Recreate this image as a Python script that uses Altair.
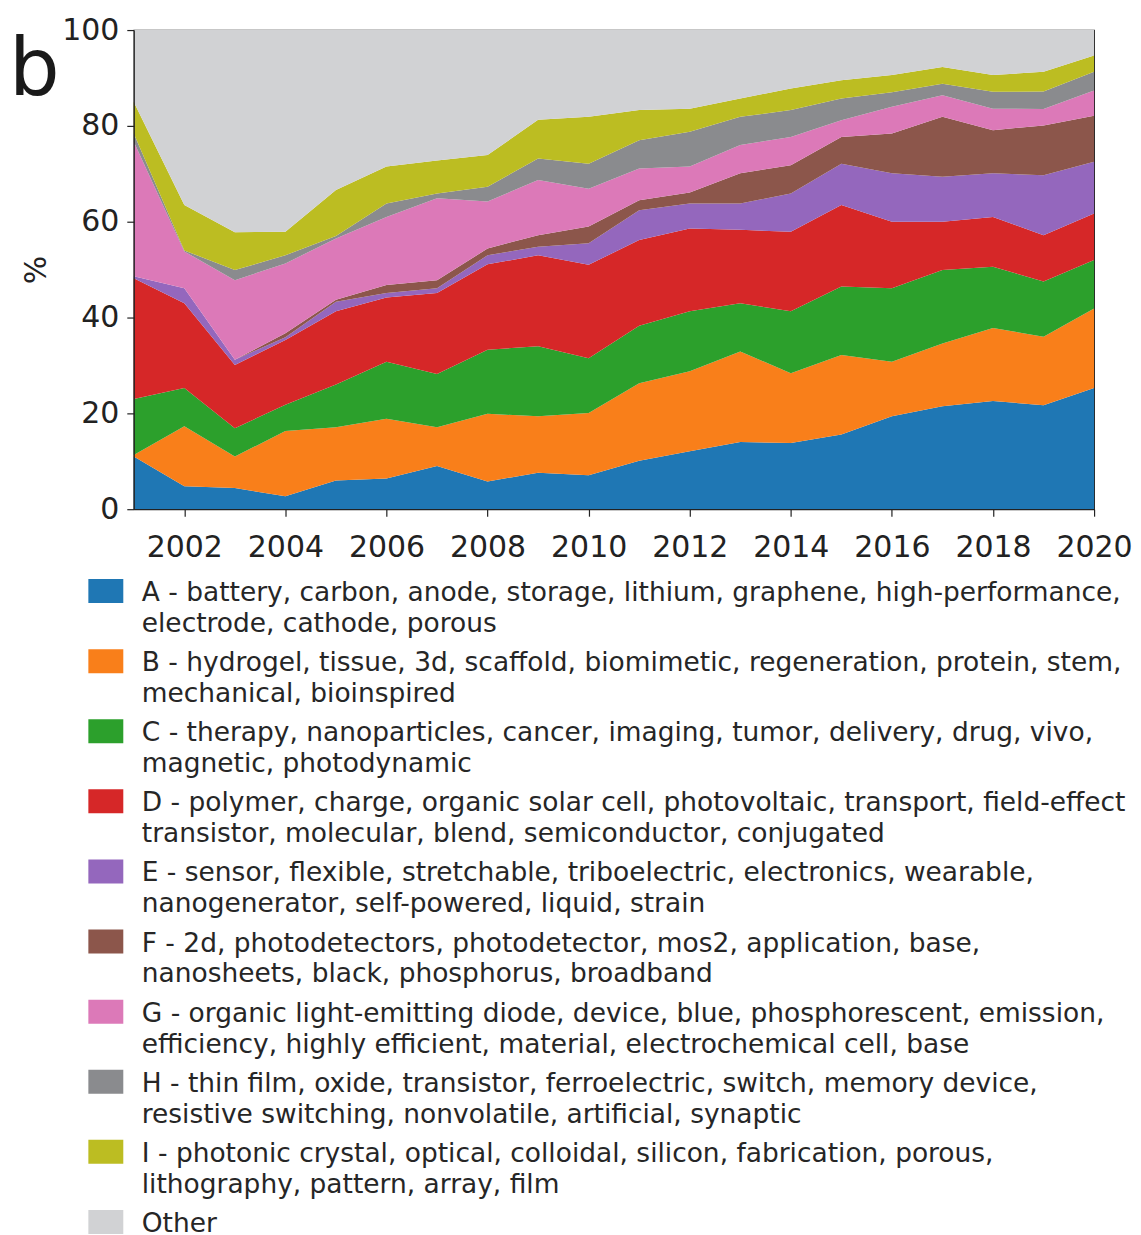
import altair as alt
import pandas as pd

FONT = "DejaVu Sans"
INK = "#222222"

PANEL_LABEL = "b"
Y_TITLE = "%"

YEARS = list(range(2001, 2021))
X_TICKS = [2002, 2004, 2006, 2008, 2010, 2012, 2014, 2016, 2018, 2020]
Y_TICKS = [0, 20, 40, 60, 80, 100]

CATEGORIES = ["A", "B", "C", "D", "E", "F", "G", "H", "I", "Other"]
COLORS = ["#1f77b4", "#f97f1a", "#2ca02c", "#d62728", "#9467bd",
          "#8c564b", "#dc79b8", "#8a8b8e", "#bcbd22", "#d1d2d4"]

SERIES_A = [11.0, 4.8, 4.4, 2.7, 6.0, 6.4, 9.0, 5.8, 7.6, 7.1, 10.1, 12.1, 14.0, 13.8, 15.6, 19.4, 21.5, 22.6, 21.7, 25.3]
SERIES_B = [0.3, 12.5, 6.6, 13.6, 11.1, 12.5, 8.1, 14.1, 11.8, 13.0, 16.2, 16.7, 18.9, 14.6, 16.6, 11.4, 13.1, 15.2, 14.3, 16.6]
SERIES_C = [11.7, 8.0, 5.9, 5.5, 8.9, 11.9, 11.1, 13.4, 14.6, 11.4, 12.0, 12.5, 10.1, 12.9, 14.3, 15.3, 15.3, 12.8, 11.5, 10.1]
SERIES_D = [25.2, 17.7, 13.2, 13.5, 15.3, 13.4, 16.9, 17.8, 19.0, 19.5, 17.9, 17.3, 15.3, 16.6, 17.0, 13.9, 10.1, 10.4, 9.7, 9.7]
SERIES_E = [0.4, 3.1, 1.1, 0.6, 2.0, 0.9, 1.0, 1.9, 1.8, 4.5, 6.2, 5.2, 5.5, 8.0, 8.6, 10.1, 9.4, 9.1, 12.5, 10.8]
SERIES_F = [0.0, 0.0, 0.0, 0.8, 0.4, 1.7, 1.7, 1.4, 2.4, 3.5, 2.1, 2.3, 6.3, 5.9, 5.6, 8.3, 12.5, 9.0, 10.4, 9.6]
SERIES_G = [28.1, 7.7, 16.6, 14.6, 12.8, 14.2, 17.1, 9.8, 11.5, 7.9, 6.6, 5.4, 5.9, 5.9, 3.5, 5.6, 4.5, 4.5, 3.4, 5.3]
SERIES_H = [1.7, 0.2, 2.1, 1.7, 0.5, 2.8, 1.0, 3.1, 4.5, 5.2, 5.9, 7.3, 5.9, 5.6, 4.5, 3.0, 2.4, 3.5, 3.7, 3.9]
SERIES_I = [6.6, 9.5, 7.9, 4.9, 9.6, 7.7, 6.9, 6.6, 8.1, 9.8, 6.3, 4.8, 3.8, 4.5, 3.8, 3.6, 3.5, 3.5, 4.1, 3.4]
SERIES_OTHER = [15.0, 36.5, 42.2, 42.1, 33.4, 28.5, 27.2, 26.1, 18.7, 18.1, 16.7, 16.4, 14.3, 12.2, 10.5, 9.4, 7.7, 9.4, 8.7, 5.3]

SERIES = [SERIES_A, SERIES_B, SERIES_C, SERIES_D, SERIES_E,
          SERIES_F, SERIES_G, SERIES_H, SERIES_I, SERIES_OTHER]

LEGEND_LABELS = [
    "A - battery, carbon, anode, storage, lithium, graphene, high-performance,\nelectrode, cathode, porous",
    "B - hydrogel, tissue, 3d, scaffold, biomimetic, regeneration, protein, stem,\nmechanical, bioinspired",
    "C - therapy, nanoparticles, cancer, imaging, tumor, delivery, drug, vivo,\nmagnetic, photodynamic",
    "D - polymer, charge, organic solar cell, photovoltaic, transport, field-effect\ntransistor, molecular, blend, semiconductor, conjugated",
    "E - sensor, flexible, stretchable, triboelectric, electronics, wearable,\nnanogenerator, self-powered, liquid, strain",
    "F - 2d, photodetectors, photodetector, mos2, application, base,\nnanosheets, black, phosphorus, broadband",
    "G - organic light-emitting diode, device, blue, phosphorescent, emission,\nefficiency, highly efficient, material, electrochemical cell, base",
    "H - thin film, oxide, transistor, ferroelectric, switch, memory device,\nresistive switching, nonvolatile, artificial, synaptic",
    "I - photonic crystal, optical, colloidal, silicon, fabrication, porous,\nlithography, pattern, array, film",
    "Other",
]

rows = []
for k, (cat, vals) in enumerate(zip(CATEGORIES, SERIES)):
    for yr, v in zip(YEARS, vals):
        rows.append({"year": yr, "cat": cat, "value": v, "idx": k})
df = pd.DataFrame(rows)

color_scale = alt.Scale(domain=CATEGORIES, range=COLORS)

area = alt.Chart(df).mark_area(interpolate="linear", opacity=1).encode(
    x=alt.X("year:Q",
            scale=alt.Scale(domain=[2001, 2020], nice=False, zero=False),
            axis=alt.Axis(values=X_TICKS, format="d", title=None, labelFlush=False,
                          labelOverlap=False, labelPadding=16, tickSize=7, grid=False, zindex=1)),
    y=alt.Y("value:Q", stack="zero",
            scale=alt.Scale(domain=[0, 100], nice=False),
            axis=alt.Axis(values=Y_TICKS, title=Y_TITLE, titlePadding=10, labelPadding=8,
                          tickSize=7, grid=False, zindex=1)),
    color=alt.Color("cat:N", scale=color_scale, legend=None),
    order=alt.Order("idx:Q", sort="ascending"),
)

panel = alt.Chart(pd.DataFrame({"t": [PANEL_LABEL]})).mark_text(
    align="left", baseline="alphabetic", fontSize=80, font=FONT, color="#1a1a1a"
).encode(text="t:N", x=alt.value(-125), y=alt.value(65))

main = alt.layer(area, panel).properties(
    width=962, height=480,
    view=alt.ViewBackground(stroke=INK, strokeWidth=1.2),
)

leg_df = pd.DataFrame({"cat": CATEGORIES, "label": LEGEND_LABELS})
ysc = alt.Y("cat:N", sort=CATEGORIES, scale=alt.Scale(type="point", padding=0), axis=None)
RECT_PATH = "M-1,-0.686L1,-0.686L1,0.686L-1,0.686Z"
swatch = alt.Chart(leg_df).mark_point(
    shape=RECT_PATH, filled=True, size=1225, opacity=1
).encode(x=alt.value(-28), y=ysc, color=alt.Color("cat:N", scale=color_scale, legend=None))
labels = alt.Chart(leg_df).mark_text(
    align="left", baseline="top", lineBreak="\n", lineHeight=31, fontSize=26.5,
    font=FONT, color="#262626", dy=-11
).encode(x=alt.value(8), y=ysc, text="label:N")
legend = alt.layer(swatch, labels).properties(
    width=962, height=632,
    view=alt.ViewBackground(stroke="transparent"),
)

chart = alt.vconcat(main, legend, spacing=15).properties(
    padding={"left": 0, "top": 5, "right": 0, "bottom": 0},
    background="white",
).configure_axis(
    labelFont=FONT, titleFont=FONT, labelFontSize=30, titleFontSize=30,
    labelColor=INK, titleColor=INK, domainColor=INK, tickColor=INK,
    tickWidth=1.2, domainWidth=1.2, titleFontWeight="normal",
)

chart.save("out.html", embed_options={"renderer": "svg", "actions": False})
